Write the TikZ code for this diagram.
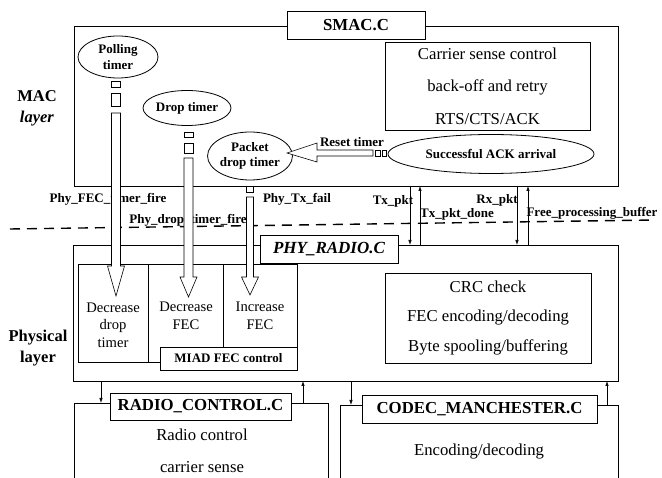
\documentclass[tikz,border=0pt]{standalone}
\usepackage{fontspec}
\setmainfont{Liberation Serif}
\usetikzlibrary{shapes.geometric,arrows.meta}
\newcommand\vfatarrow[6]{%
  \filldraw[fat] ({#1-#5},#2) -- ({#1-#5},#3) -- ({#1-#6},#3) -- (#1,#4) -- ({#1+#6},#3) -- ({#1+#5},#3) -- ({#1+#5},#2) -- cycle;}
\tikzset{
  box/.style={draw, inner sep=0pt, outer sep=0pt},
  body/.style={font=\fontsize{16.7}{20}\selectfont, inner sep=0pt},
  lbl/.style={font=\bfseries\fontsize{13}{15}\selectfont, inner sep=0pt},
  title/.style={box, fill=white, font=\bfseries\fontsize{16.8}{20}\selectfont},
  timer/.style={draw, ellipse, inner sep=0pt, align=center, font=\bfseries\fontsize{13}{15.5}\selectfont},
  fat/.style={draw, fill=white, line width=0.6pt},
  sq/.style={draw, fill=white, line width=0.6pt, inner sep=0pt, outer sep=0pt},
  sig/.style={line width=0.7pt, -{Latex[length=5pt,width=3.5pt]}},
  small/.style={align=center, inner sep=0pt, font=\fontsize{14.6}{17.5}\selectfont},
  side/.style={align=center, inner sep=0pt, font=\bfseries\fontsize{16.5}{21}\selectfont},
}
\begin{document}
\begin{tikzpicture}[x=1pt,y=-1pt,line width=0.8pt]
\useasboundingbox (0,0) rectangle (662,478);
\clip (0,0) rectangle (662,478);
% ---------- MAC layer ----------
\node[box, minimum width=544pt, minimum height=160pt] (macbox) at (346,106) {};
\node[title, minimum width=138pt, minimum height=28pt] (smac) at (356,25) {SMAC.C};
\node[box, align=center, font=\fontsize{16.7}{32.5}\selectfont, minimum width=205pt, minimum height=88pt] (csc) at (487.5,86) {Carrier sense control\\back-off and retry\\RTS/CTS/ACK};
\node[timer, minimum width=80pt, minimum height=42pt] (poll) at (118,57) {Polling\\timer};
\node[timer, minimum width=80pt, minimum height=35pt] (drop) at (187,108) {Drop timer};
\node[timer, minimum width=75pt, minimum height=48pt] (pdt) at (250,156) {Packet\\drop timer};
\node[timer, minimum width=206pt, minimum height=39pt] (ack) at (491,154) {Successful ACK arrival};
\node[side] (maclayer) at (37,108) {MAC\\\textit{layer}};
% ---------- PHY layer ----------
\node[box, minimum width=545pt, minimum height=136pt] (phybox) at (345.5,313) {};
\node[title, font=\bfseries\itshape\fontsize{17}{20}\selectfont, minimum width=138pt, minimum height=28pt] (phyr) at (329,249) {PHY\_RADIO.C};
\node[box, align=center, font=\fontsize{16.7}{29.5}\selectfont, minimum width=206pt, minimum height=90pt] (crc) at (488,318) {CRC check\\FEC encoding/decoding\\Byte spooling/buffering};
\node[side] (phylayer) at (38,348) {Physical\\layer};
% MIAD region
\draw (78,362) -- (78,264) -- (297,264) -- (297,347);
\draw (78,362) -- (160,362);
\draw (148,264) -- (148,362);
\draw (223,264) -- (223,347);
\node[box, fill=white, lbl, minimum width=137pt, minimum height=23pt] (miad) at (228.5,358.5) {MIAD FEC control};
\node[small] (ddt) at (113,325) {Decrease\\drop\\timer};
\node[small] (dfec) at (186,316) {Decrease\\FEC};
\node[small] (ifec) at (260,316) {Increase\\FEC};
% ---------- lower modules ----------
\node[box, minimum width=254pt, minimum height=100pt] (radiobox) at (201,453) {};
\node[title, minimum width=181pt, minimum height=27pt] (radio) at (200.5,406.5) {RADIO\_CONTROL.C};
\node[body] (rc) at (202,435) {Radio control};
\node[body] (cs) at (202,467) {carrier sense};
\node[box, minimum width=278pt, minimum height=100pt] (codecbox) at (479,455) {};
\node[title, minimum width=235pt, minimum height=28pt] (codec) at (479.5,409) {CODEC\_MANCHESTER.C};
\node[body] (enc) at (479,452) {Encoding/decoding};
% ---------- signal arrows ----------
\draw[sig] (410,0 |- macbox.south) -- (410,0 |- phybox.north);
\draw[sig] (420,0 |- phybox.north) -- (420,0 |- macbox.south);
\draw[sig] (517,0 |- macbox.south) -- (517,0 |- phybox.north);
\draw[sig] (528,0 |- phybox.north) -- (528,0 |- macbox.south);
\draw[sig] (101,0 |- phybox.south) -- (101,0 |- radiobox.north);
\draw[sig] (303,0 |- radiobox.north) -- (303,0 |- phybox.south);
\draw[sig] (351,0 |- phybox.south) -- (351,0 |- codecbox.north);
\draw[sig] (607,0 |- codecbox.north) -- (607,0 |- phybox.south);
% ---------- labels ----------
\node[lbl] (l1) at (108,199) {Phy\_FEC\_timer\_fire};
\node[lbl] (l2) at (188,220) {Phy\_drop\_timer\_fire};
\node[lbl] (l3) at (297,199) {Phy\_Tx\_fail};
\node[lbl] (l4) at (393,201) {Tx\_pkt};
\node[lbl] (l5) at (497,200) {Rx\_pkt};
\node[lbl] (l6) at (457,214) {Tx\_pkt\_done};
\node[lbl] (l7) at (592,213) {Free\_processing\_buffer};
\node[lbl] (l8) at (352,142) {Reset timer};
% dashed layer border
\coordinate (dl) at (10,229);
\coordinate (dr) at (655,220);
\draw[line width=1.4pt, dash pattern=on 10pt off 7pt] (dl) -- (dr);
% ---------- fat arrows ----------
\vfatarrow{116}{113}{266}{296}{4.5}{8.5}
\vfatarrow{188.5}{158}{277}{297}{4.5}{8.5}
\vfatarrow{250}{197}{277}{295}{3.5}{8.5}
\filldraw[fat] (373,150) -- (317,150) -- (317,143) -- (287,153) -- (317,162) -- (317,156) -- (373,156) -- cycle;
% small squares
\node[sq, minimum width=9pt, minimum height=6pt] (ps1) at (116,84) {};
\node[sq, minimum width=9pt, minimum height=13pt] (ps2) at (116,99.5) {};
\node[sq, minimum width=9pt, minimum height=5pt] (ds1) at (188.5,134.5) {};
\node[sq, minimum width=9pt, minimum height=10pt] (ds2) at (188.5,148) {};
\node[sq, minimum width=7pt, minimum height=6pt] (ts1) at (250,189) {};
\node[sq, minimum width=5pt, minimum height=6pt] (as1) at (377.5,153) {};
\node[sq, minimum width=4pt, minimum height=6pt] (as2) at (384,153) {};
\end{tikzpicture}
\end{document}
